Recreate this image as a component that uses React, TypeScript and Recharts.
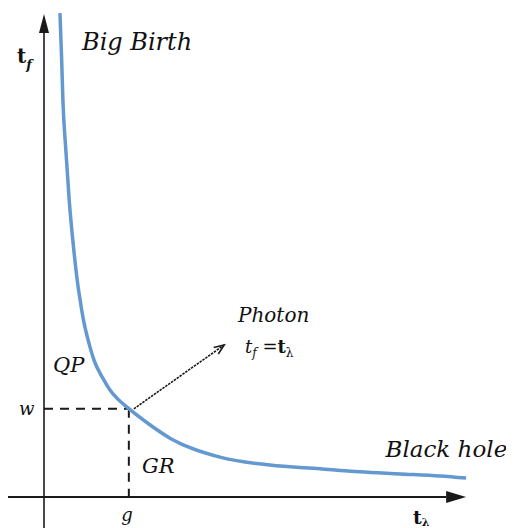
import React from 'react';
import { LineChart, Line, XAxis, YAxis, ReferenceLine, ReferenceDot } from 'recharts';

// curve (t_lambda, t_f)
const tLambda = [0.38, 0.42, 0.45, 0.52, 0.6, 0.71, 0.79, 0.86, 0.94, 1.05, 1.19, 1.4, 1.57, 1.76, 2.0, 2.52, 3.0, 4.19, 5.38, 6.57, 7.52, 8.48, 9.43, 10.05];
const tF = [11.52, 10.43, 9.45, 8.26, 7.07, 5.88, 5.17, 4.69, 4.21, 3.74, 3.26, 2.83, 2.55, 2.33, 2.12, 1.72, 1.4, 0.95, 0.76, 0.67, 0.6, 0.55, 0.5, 0.45];

// crossing point g / w
const gValue = 2.02;
const wValue = 2.1;

// photon direction arrow
const photonFrom = [2.14, 2.1];
const photonTo = [4.29, 3.62];

const data = tLambda.map((x, i) => ({ x, tf: tF[i] }));

const X_MIN = -36 / 42;
const X_MAX = 470 / 42;
const Y_MIN = -31 / 42;
const Y_MAX = 489 / 42;

const FONT = '"DejaVu Serif", serif';
const INK = '#1a1a1a';

const arrowShape = (head: number, half: number, color: string, width: number, dash?: string, open?: boolean) => (props: any) => {
  const { x1, y1, x2, y2 } = props;
  if ([x1, y1, x2, y2].some((v) => typeof v !== 'number' || isNaN(v))) return <g />;
  const ang = Math.atan2(y2 - y1, x2 - x1);
  const bx = x2 - head * Math.cos(ang);
  const by = y2 - head * Math.sin(ang);
  const px = -Math.sin(ang) * half;
  const py = Math.cos(ang) * half;
  return (
    <g>
      <line x1={x1} y1={y1} x2={open ? x2 : bx} y2={open ? y2 : by} stroke={color} strokeWidth={width} strokeDasharray={dash} />
      {open ? (
        <polyline points={`${bx + px},${by + py} ${x2},${y2} ${bx - px},${by - py}`} fill="none" stroke={color} strokeWidth={width} />
      ) : (
        <polygon points={`${x2},${y2} ${bx + px},${by + py} ${bx - px},${by - py}`} fill={color} />
      )}
    </g>
  );
};

const textShape = (content: React.ReactNode, size: number, opts: { anchor?: string; italic?: boolean; weight?: string } = {}) => (p: any) => (
  <text
    x={p.cx}
    y={p.cy}
    fontFamily={FONT}
    fontSize={size}
    fontStyle={opts.italic === false ? 'normal' : 'italic'}
    fontWeight={opts.weight || 'normal'}
    textAnchor={(opts.anchor as any) || 'start'}
    fill="#111"
  >
    {content}
  </text>
);

export default function App() {
  return (
    <div style={{ width: 506, height: 520, background: '#fff' }}>
      <LineChart width={506} height={520} data={data} margin={{ top: 0, right: 0, bottom: 0, left: 0 }}>
        <XAxis dataKey="x" type="number" domain={[X_MIN, X_MAX]} allowDataOverflow hide />
        <YAxis type="number" domain={[Y_MIN, Y_MAX]} allowDataOverflow hide />

        {/* axes with arrowheads */}
        <ReferenceLine
          ifOverflow="visible"
          segment={[{ x: X_MIN, y: 0 }, { x: 10.05, y: 0 }]}
          shape={arrowShape(20, 6, INK, 2)}
        />
        <ReferenceLine
          ifOverflow="visible"
          segment={[{ x: 0, y: Y_MIN }, { x: 0, y: 11.5 }]}
          shape={arrowShape(19, 5, INK, 1.6)}
        />

        {/* dashed guides */}
        <ReferenceLine
          ifOverflow="visible"
          segment={[{ x: 0, y: wValue }, { x: gValue, y: wValue }]}
          stroke={INK}
          strokeWidth={2}
          strokeDasharray="9 7"
        />
        <ReferenceLine
          ifOverflow="visible"
          segment={[{ x: gValue, y: wValue }, { x: gValue, y: 0 }]}
          stroke={INK}
          strokeWidth={2}
          strokeDasharray="9 7"
        />

        {/* photon arrow */}
        <ReferenceLine
          ifOverflow="visible"
          segment={[{ x: photonFrom[0], y: photonFrom[1] }, { x: photonTo[0], y: photonTo[1] }]}
          shape={arrowShape(10, 4, INK, 1.6, '2.5 1', true)}
        />

        <Line type="monotone" dataKey="tf" stroke="#6398d0" strokeWidth={3.5} dot={false} isAnimationActive={false} />

        {/* labels */}
        <ReferenceDot ifOverflow="visible" x={0.905} y={10.643} r={0} shape={textShape('Big Birth', 24)} />
        <ReferenceDot ifOverflow="visible" x={0.214} y={2.976} r={0} shape={textShape('QP', 21)} />
        <ReferenceDot ifOverflow="visible" x={-0.595} y={1.95} r={0} shape={textShape('w', 18)} />
        <ReferenceDot ifOverflow="visible" x={2.333} y={0.571} r={0} shape={textShape('GR', 21)} />
        <ReferenceDot ifOverflow="visible" x={1.976} y={-0.57} r={0} shape={textShape('g', 18, { anchor: 'middle' })} />
        <ReferenceDot ifOverflow="visible" x={4.619} y={4.167} r={0} shape={textShape('Photon', 20)} />
        <ReferenceDot
          ifOverflow="visible"
          x={4.786}
          y={3.429}
          r={0}
          shape={textShape(
            <>
              <tspan>t</tspan>
              <tspan dy={4} fontSize={12}>f</tspan>
              <tspan dy={-4} fontStyle="normal"> =</tspan>
              <tspan fontStyle="normal" fontWeight="bold">t</tspan>
              <tspan dy={4} fontSize={12} fontStyle="normal">λ</tspan>
            </>,
            18
          )}
        />
        <ReferenceDot ifOverflow="visible" x={11.03} y={0.952} r={0} shape={textShape('Black hole', 23, { anchor: 'end' })} />
        <ReferenceDot
          ifOverflow="visible"
          x={-0.643}
          y={10.333}
          r={0}
          shape={textShape(
            <>
              <tspan>t</tspan>
              <tspan dy={6} fontSize={13} fontStyle="italic">f</tspan>
            </>,
            20,
            { italic: false, weight: 'bold' }
          )}
        />
        <ReferenceDot
          ifOverflow="visible"
          x={8.786}
          y={-0.64}
          r={0}
          shape={textShape(
            <>
              <tspan>t</tspan>
              <tspan dy={2} fontSize={11}>λ</tspan>
            </>,
            19,
            { italic: false, weight: 'bold' }
          )}
        />
      </LineChart>
    </div>
  );
}
